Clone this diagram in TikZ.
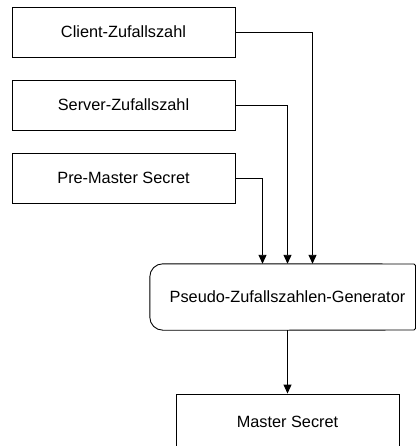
\documentclass[tikz,border=0pt]{standalone}
\usepackage{fontspec}
\setmainfont{Liberation Sans}
\usetikzlibrary{arrows.meta}
\begin{document}
\begin{tikzpicture}[x=1pt,y=-1pt,
  label text/.style={inner sep=0pt, font=\fontsize{16.3}{18}\selectfont},
  box/.style={label text, draw, line width=0.9pt, minimum width=223pt, minimum height=50pt},
  outline/.style={line width=0.9pt},
  link/.style={line width=0.9pt, -{Triangle[length=9pt,width=8pt]}}]
\useasboundingbox (0,0) rectangle (416,446);
\begin{scope}
\clip (0,0) rectangle (416,446);
\node[box] (client) at (123.5,32) {Client-Zufallszahl};
\node[box] (server) at (123.5,105) {Server-Zufallszahl};
\node[box] (pms) at (123.5,178) {Pre-Master Secret};
% generator: text node, outline drawn separately (right side ends at the page edge)
\node[label text, minimum width=275pt, minimum height=66pt] (prng) at (287.5,297) {Pseudo-Zufallszahlen-Generator};
\draw[outline, rounded corners=13pt] (prng.north) -- (prng.north west) -- (prng.south west) -- (prng.south);
\draw[outline, rounded corners=1.5pt] (prng.north) -- (415.5,264) -- (415.5,330) -- (prng.south);
% the lower box runs past the bottom edge of the page
\node[box, minimum height=56pt] (ms) at (287.5,422) {Master Secret};
\draw[link] (client.east) -| ([xshift=25pt]prng.north);
\draw[link] (server.east) -| (prng.north);
\draw[link] (pms.east) -| ([xshift=-25pt]prng.north);
\draw[link] (prng.south) -- (ms.north);
\end{scope}
\end{tikzpicture}
\end{document}
